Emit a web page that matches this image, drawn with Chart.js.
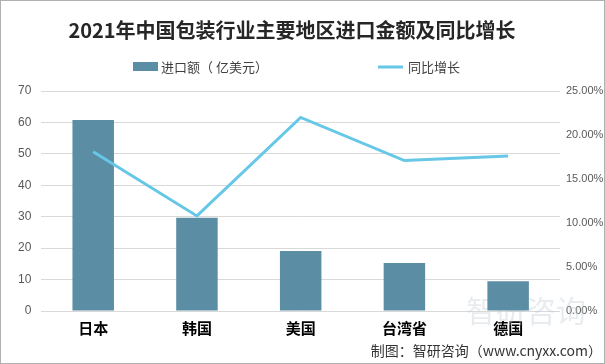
<!DOCTYPE html>
<html>
<head>
<meta charset="utf-8">
<script src="https://cdn.jsdelivr.net/npm/chart.js@4/dist/chart.umd.min.js"></script>
<style>
  html, body { margin: 0; padding: 0; background: #fff; }
  #wrap { width: 605px; height: 364px; position: relative; }
</style>
</head>
<body>
<div id="wrap"><canvas id="chart" width="605" height="364"></canvas></div>
<script>
  const regions = ['日本', '韩国', '美国', '台湾省', '德国'];
  const importValues = [60.8, 29.7, 19.1, 15.3, 9.5];
  const growthRates = [0.181, 0.108, 0.220, 0.171, 0.176];

  const titleText = '2021年中国包装行业主要地区进口金额及同比增长';
  const barLabel = '进口额（ 亿美元）';
  const lineLabel = '同比增长';
  const sourceText = '制图：智研咨询（www.cnyxx.com）';

  const barColor = '#5b8ea5';
  const lineColor = '#66c7e6';
  const cjk = "'Noto Sans CJK SC', 'Noto Sans', sans-serif";

  // title, legend, watermark, source note and frame
  const decorations = {
    id: 'decorations',
    beforeDatasetsDraw(chart) {
      const ctx = chart.ctx;
      ctx.save();
      ctx.fillStyle = 'rgba(190, 200, 210, 0.35)';
      ctx.font = `30px ${cjk}`;
      ctx.textBaseline = 'middle';
      ctx.fillText('智研咨询', 466, 311);
      ctx.restore();
    },
    afterDraw(chart) {
      const ctx = chart.ctx;
      ctx.save();
      ctx.textBaseline = 'middle';

      ctx.fillStyle = '#262626';
      ctx.font = `bold 20px ${cjk}`;
      ctx.textAlign = 'center';
      ctx.fillText(titleText, 292, 30);

      ctx.textAlign = 'left';
      ctx.font = `13px ${cjk}`;
      ctx.fillStyle = barColor;
      ctx.fillRect(133, 62, 25, 9);
      ctx.fillStyle = '#404040';
      ctx.fillText(barLabel, 161, 67);

      ctx.strokeStyle = lineColor;
      ctx.lineWidth = 3;
      ctx.beginPath();
      ctx.moveTo(378, 67);
      ctx.lineTo(403, 67);
      ctx.stroke();
      ctx.fillText(lineLabel, 408, 67);

      ctx.fillStyle = '#333';
      ctx.font = `14px ${cjk}`;
      ctx.textAlign = 'right';
      ctx.fillText(sourceText, 602, 351);

      ctx.strokeStyle = '#b0b0b0';
      ctx.lineWidth = 1;
      ctx.strokeRect(0.5, 0.5, chart.width - 1, chart.height - 1);
      ctx.restore();
    }
  };

  new Chart(document.getElementById('chart'), {
    data: {
      labels: regions,
      datasets: [
        {
          type: 'line',
          label: lineLabel,
          data: growthRates,
          yAxisID: 'y1',
          borderColor: lineColor,
          borderWidth: 3,
          pointRadius: 0,
          tension: 0,
          order: 0
        },
        {
          type: 'bar',
          label: barLabel,
          data: importValues,
          yAxisID: 'y',
          backgroundColor: barColor,
          barPercentage: 0.4,
          categoryPercentage: 1,
          order: 1
        }
      ]
    },
    options: {
      responsive: false,
      animation: false,
      layout: { padding: { top: 91, left: 8, right: 0, bottom: 27 } },
      plugins: {
        legend: { display: false },
        title: { display: false },
        tooltip: { enabled: false }
      },
      scales: {
        x: {
          grid: { display: false },
          border: { display: false },
          ticks: {
            color: '#000',
            font: { family: cjk, size: 15, weight: 'bold' },
            padding: 0
          }
        },
        y: {
          position: 'left',
          min: 0,
          max: 70,
          ticks: {
            stepSize: 10,
            color: '#595959',
            font: { family: "'Liberation Sans', sans-serif", size: 12 },
            padding: 10
          },
          grid: { color: '#d9d9d9', drawTicks: false },
          border: { display: false }
        },
        y1: {
          position: 'right',
          min: 0,
          max: 0.25,
          afterFit(scale) { scale.width = 45; },
          ticks: {
            stepSize: 0.05,
            color: '#595959',
            font: { family: "'Liberation Sans', sans-serif", size: 11 },
            padding: 6,
            callback: (v) => (v * 100).toFixed(2) + '%'
          },
          grid: { display: false, drawTicks: false },
          border: { display: false }
        }
      }
    },
    plugins: [decorations]
  });
</script>
</body>
</html>
